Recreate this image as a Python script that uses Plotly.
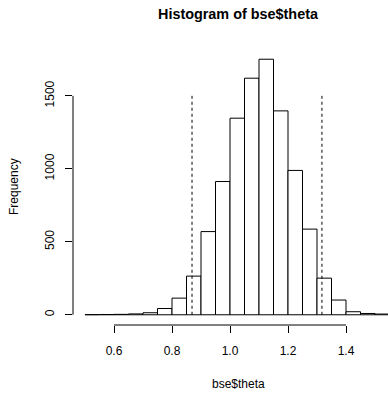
import plotly.graph_objects as go

# Data
bin_edges = [0.50, 0.55, 0.60, 0.65, 0.70, 0.75, 0.80, 0.85, 0.90, 0.95, 1.00,
             1.05, 1.10, 1.15, 1.20, 1.25, 1.30, 1.35, 1.40, 1.45, 1.50, 1.55]
counts = [1, 2, 3, 6, 14, 43, 114, 265, 570, 913, 1347,
          1621, 1751, 1397, 989, 587, 251, 101, 21, 9, 5]
quantile_lines = [0.869, 1.317]
quantile_top = 1500
x_ticks = [0.6, 0.8, 1.0, 1.2, 1.4]
y_ticks = [0, 500, 1000, 1500]

centers = [(a + b) / 2 for a, b in zip(bin_edges[:-1], bin_edges[1:])]
widths = [b - a for a, b in zip(bin_edges[:-1], bin_edges[1:])]

FONT = "Liberation Sans, Arial, Helvetica, sans-serif"

fig = go.Figure()
fig.add_trace(go.Bar(
    x=centers, y=counts, width=widths,
    marker=dict(color="white", line=dict(color="black", width=1)),
    hoverinfo="skip", showlegend=False,
))
for q in quantile_lines:
    fig.add_trace(go.Scatter(
        x=[q, q], y=[0, quantile_top], mode="lines",
        line=dict(color="black", width=1, dash="3px,3px"),
        hoverinfo="skip", showlegend=False,
    ))

# R-style axis lines spanning first to last tick
fig.add_shape(type="line", xref="x", yref="paper",
              x0=x_ticks[0], x1=x_ticks[-1], y0=0, y1=0,
              line=dict(color="black", width=1))
fig.add_shape(type="line", xref="paper", yref="y",
              x0=0, x1=0, y0=y_ticks[0], y1=y_ticks[-1],
              line=dict(color="black", width=1))

fig.update_layout(
    width=388, height=393,
    margin=dict(l=73, r=0, t=49, b=68),
    paper_bgcolor="white", plot_bgcolor="white",
    font=dict(family=FONT, size=12, color="black"),
    bargap=0,
    xaxis=dict(range=[0.4586, 1.5448], tickvals=x_ticks,
               ticktext=[f"{v:.1f}" for v in x_ticks],
               ticks="outside", ticklen=7, tickcolor="black", tickwidth=1,
               showgrid=False, zeroline=False, showline=False,
               ticklabelstandoff=8),
    yaxis=dict(range=[-70, 1821], tickvals=y_ticks,
               ticktext=[str(v) for v in y_ticks], tickangle=-90,
               ticks="outside", ticklen=7, tickcolor="black", tickwidth=1,
               showgrid=False, zeroline=False, showline=False,
               ticklabelstandoff=6),
    annotations=[
        dict(text="<b>Histogram of bse$theta</b>", xref="paper", yref="paper",
             x=0.524, y=1, yshift=35, xanchor="center", yanchor="middle",
             showarrow=False, font=dict(size=14.4, family=FONT)),
        dict(text="bse$theta", xref="paper", yref="paper",
             x=0.524, y=0, yshift=-59, xanchor="center", yanchor="middle",
             showarrow=False, font=dict(size=12, family=FONT)),
        dict(text="Frequency", xref="paper", yref="paper",
             x=0, y=0.5, xshift=-59, xanchor="center", yanchor="middle",
             textangle=-90, showarrow=False, font=dict(size=12, family=FONT)),
    ],
)

fig.write_html(
    "out.html",
    config={"displayModeBar": False, "staticPlot": True},
    post_script="document.body.style.margin='0';document.body.style.overflow='hidden';",
)
